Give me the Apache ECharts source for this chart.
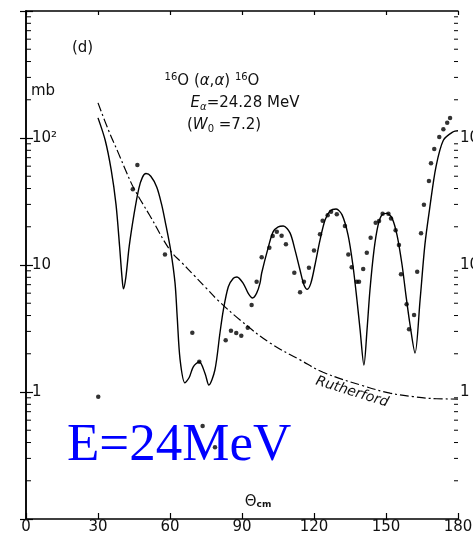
<!DOCTYPE html>
<html>
<head>
<meta charset="utf-8">
<title></title>
<script src="https://cdn.jsdelivr.net/npm/echarts@6/dist/echarts.min.js"></script>
<style>
  html, body { margin: 0; padding: 0; background: #fff; }
  #main { width: 473px; height: 534px; }
</style>
</head>
<body>
<div id="main"></div>
<script>
// optical model fit (solid line), angle in deg, cross section in mb
var fitAngle = [30, 33, 35.5, 37.5, 39, 40, 40.6, 41.6, 43, 45, 47, 48.5, 50, 52, 54.5, 56.5, 58, 60.3,
  62.1, 63, 64.2, 66.2, 68, 69.7, 72.2, 74.6, 76.2, 78.7, 80.8, 82.2, 84.3, 86.4, 87.9, 90.5, 92.6,
  94.4, 96.1, 97.5, 98.2, 101, 103, 105.1, 107.2, 110, 112.1, 114.2, 115.8, 117.2, 118.7, 120.4,
  122.5, 124.6, 126.7, 129.2, 131.7, 134.2, 136.2, 137.9, 139.2, 140.8, 142.1, 143.3, 145, 146.7,
  148.3, 150.3, 152.5, 154.6, 156.7, 158.3, 160, 162.1, 164.2, 166.2, 168.3, 170.8, 173.9, 178, 180];
var fitValue = [144, 96, 56, 30, 14, 8, 6.5, 8, 14, 25, 40, 49, 52.5, 50, 41, 30, 22, 13,
  7.2, 3.9, 1.8, 1.18, 1.3, 1.58, 1.73, 1.4, 1.135, 1.49, 2.9, 4.4, 6.75, 7.86, 8.05, 7.18, 5.98,
  5.5, 6.0, 7.2, 8.65, 13.9, 18.3, 20, 20.3, 17.9, 13.1, 9.1, 7.0, 6.44, 7.2, 10,
  15.7, 22.6, 26.6, 27.6, 24.8, 17.2, 10, 5.3, 3.1, 1.63, 3.1, 6.3, 13.1, 20.6,
  24.8, 25.5, 23.4, 17.2, 10, 5.8, 3.4, 2.03, 5.3, 14.4, 28.8, 59, 96, 112, 114];

// Rutherford cross section (dash-dot)
var rutherfordAngle = [30, 34.3, 38.5, 42, 45, 51.7, 60, 65, 70, 75, 80, 89.2, 101.7, 114.2, 123.8, 140.4, 151.7, 161.2, 171.1, 180];
var rutherfordValue = [189, 116, 76, 53, 40, 24.3, 13.1, 10.4, 8.3, 6.6, 5.27, 3.69, 2.43, 1.79, 1.43, 1.12, 0.98, 0.92, 0.885, 0.88];

// measured points
var expAngle = [30.1, 44.5, 46.4, 57.9, 69.3, 72.2, 73.6, 78.75, 83.2, 85.4, 87.6, 89.7, 92.4, 94.0,
  96.1, 98.2, 101.4, 102.8, 104.5, 106.5, 108.3, 111.8, 114.2, 115.8, 117.9, 120, 122.5, 123.6,
  125.7, 127.1, 129.5, 132.9, 134.3, 135.7, 137.8, 138.75, 140.5, 142, 143.6, 145.7, 147.1, 148.6,
  151, 152.1, 154, 155.4, 156.25, 158.6, 159.6, 161.7, 163, 164.6, 165.8, 167.9, 168.75, 170.1,
  172.2, 173.9, 175.5, 176.7];
var expValue = [0.918, 39.4, 61.3, 12.1, 2.93, 1.73, 0.54, 0.367, 2.55, 3.04, 2.92, 2.77, 3.21, 4.84,
  7.39, 11.5, 13.7, 16.9, 18.3, 17.0, 14.6, 8.7, 6.1, 7.39, 9.52, 13.0, 17.5, 22.3,
  24.6, 26.3, 25.1, 20.3, 12.1, 9.59, 7.39, 7.39, 9.31, 12.5, 16.4, 21.5, 22.2, 25.3,
  25.3, 23.2, 18.8, 14.4, 8.45, 4.91, 3.12, 4.04, 8.86, 17.8, 29.8, 45.8, 63.2, 81.9,
  102, 117, 132, 144];

var xTicks = [0, 30, 60, 90, 120, 150, 180];
var minorTicks = [0.2, 0.3, 0.4, 0.5, 0.6, 0.7, 0.8, 0.9, 2, 3, 4, 5, 6, 7, 8, 9,
  20, 30, 40, 50, 60, 70, 80, 90, 200, 300, 400, 500, 600, 700, 800, 900];

function pairs(xs, ys) {
  var out = [];
  for (var i = 0; i < xs.length; i++) out.push([xs[i], ys[i]]);
  return out;
}

function yLabel(v) {
  if (Math.abs(v - 100) < 1e-6) return '10²';
  if (Math.abs(v - 10) < 1e-6) return '10';
  if (Math.abs(v - 1) < 1e-6) return '1';
  return '';
}

var chart = echarts.init(document.getElementById('main'), null, { renderer: 'canvas' });
var axisFont = { color: '#111', fontSize: 15, fontFamily: 'DejaVu Sans' };
var lineBlack = { color: '#000', width: 1.5 };

var option = {
  animation: false,
  backgroundColor: '#fff',
  grid: { left: 26, right: 15, top: 11, bottom: 15, show: false, containLabel: false, outerBoundsMode: 'none' },
  xAxis: [{
    type: 'value', position: 'bottom', min: 0, max: 180, interval: 30,
    axisLine: { show: true, lineStyle: lineBlack },
    axisTick: { show: true, inside: true, length: 6, lineStyle: { color: '#000', width: 1.2 } },
    axisLabel: Object.assign({ margin: 1, formatter: function(v) { return xTicks.indexOf(v) >= 0 ? String(v) : ''; } }, axisFont),
    splitLine: { show: false }
  }, {
    type: 'value', position: 'top', min: 0, max: 180, interval: 30,
    axisLine: { show: true, lineStyle: lineBlack },
    axisTick: { show: true, inside: true, length: 4, lineStyle: { color: '#000', width: 1.2 } },
    axisLabel: { show: false },
    splitLine: { show: false }
  }],
  yAxis: [{
    type: 'log', position: 'left', min: 0.1, max: 1000, logBase: 10,
    axisLine: { show: true, lineStyle: lineBlack },
    axisTick: { show: true, inside: true, length: 7, lineStyle: { color: '#000', width: 1.2 } },
    axisLabel: Object.assign({ inside: true, margin: 6, formatter: yLabel }, axisFont),
    splitLine: { show: false }
  }, {
    type: 'log', position: 'right', min: 0.1, max: 1000, logBase: 10,
    axisLine: { show: true, lineStyle: lineBlack },
    axisTick: { show: true, inside: true, length: 6, lineStyle: { color: '#000', width: 1.2 } },
    axisLabel: Object.assign({ margin: 2, formatter: yLabel }, axisFont),
    splitLine: { show: false }
  }],
  series: [{
    name: 'minor',
    type: 'custom',
    silent: true,
    xAxisIndex: 0, yAxisIndex: 0,
    data: minorTicks.map(function(v) { return [0, v]; }),
    renderItem: function(params, api) {
      var cs = params.coordSys;
      var y = api.coord([0, api.value(1)])[1];
      return {
        type: 'group',
        children: [
          { type: 'line', shape: { x1: cs.x, y1: y, x2: cs.x + 5, y2: y }, style: { stroke: '#000', lineWidth: 1 } },
          { type: 'line', shape: { x1: cs.x + cs.width - 4, y1: y, x2: cs.x + cs.width, y2: y }, style: { stroke: '#000', lineWidth: 1 } }
        ]
      };
    }
  }, {
    name: 'fit',
    type: 'line',
    data: pairs(fitAngle, fitValue),
    smooth: 0.3,
    showSymbol: false,
    lineStyle: { color: '#000', width: 1.4 },
    z: 3
  }, {
    name: 'Rutherford',
    type: 'line',
    data: pairs(rutherfordAngle, rutherfordValue),
    smooth: 0.4,
    showSymbol: false,
    lineStyle: { color: '#000', width: 1.2, type: [9, 3, 2, 3] },
    z: 3
  }, {
    name: 'exp',
    type: 'scatter',
    data: pairs(expAngle, expValue),
    symbol: 'circle',
    symbolSize: 4.5,
    itemStyle: { color: '#000' },
    z: 4
  }],
  graphic: [
    { type: 'text', left: 72, top: 41, style: { text: '(d)', font: '15px DejaVu Sans', fill: '#111' } },
    { type: 'text', left: 31, top: 84, style: { text: 'mb', font: '15px DejaVu Sans', fill: '#111' } },
    { type: 'text', x: 212, y: 81, style: {
        text: '{s|16}O ({i|α},{i|α}) {s|16}O', fill: '#111', align: 'center', verticalAlign: 'middle',
        rich: {
          s: { fontSize: 10, fontFamily: 'DejaVu Sans', verticalAlign: 'top', lineHeight: 18 },
          i: { fontSize: 15, fontFamily: 'DejaVu Sans', fontStyle: 'italic', lineHeight: 18 }
        },
        font: '15px DejaVu Sans'
      } },
    { type: 'text', x: 245, y: 103, style: {
        text: '{i|E}{b|α}=24.28 MeV', fill: '#111', align: 'center', verticalAlign: 'middle',
        rich: {
          i: { fontSize: 15, fontFamily: 'DejaVu Sans', fontStyle: 'italic', lineHeight: 18 },
          b: { fontSize: 10, fontFamily: 'DejaVu Sans', fontStyle: 'italic', verticalAlign: 'bottom', lineHeight: 14 }
        },
        font: '15px DejaVu Sans'
      } },
    { type: 'text', x: 224, y: 125, style: {
        text: '({i|W}{b|0} =7.2)', fill: '#111', align: 'center', verticalAlign: 'middle',
        rich: {
          i: { fontSize: 15, fontFamily: 'DejaVu Sans', fontStyle: 'italic', lineHeight: 18 },
          b: { fontSize: 10, fontFamily: 'DejaVu Sans', verticalAlign: 'bottom', lineHeight: 14 }
        },
        font: '15px DejaVu Sans'
      } },
    { type: 'text', x: 352, y: 392, rotation: -0.3, style: {
        text: 'Rutherford', font: 'italic 14px DejaVu Sans', fill: '#111', align: 'center', verticalAlign: 'middle'
      } },
    { type: 'text', x: 258, y: 502, style: {
        text: 'Θ{c|cm}', fill: '#111', align: 'center', verticalAlign: 'middle',
        rich: { c: { fontSize: 9, fontWeight: 'bold', fontFamily: 'DejaVu Sans', verticalAlign: 'bottom' } },
        font: '15px DejaVu Sans'
      } },
    { type: 'text', left: 67, top: 420, style: {
        text: 'E=24MeV', font: '53px "Liberation Serif"', fill: '#0000ff'
      } }
  ]
};
chart.setOption(option);
</script>
</body>
</html>
